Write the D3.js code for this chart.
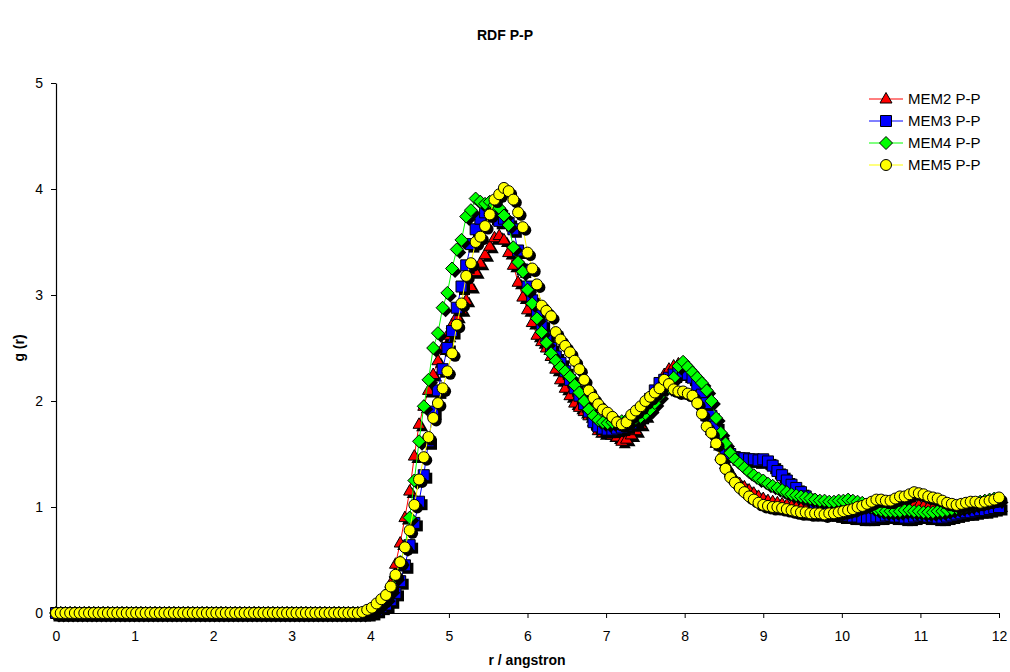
<!DOCTYPE html>
<html>
<head>
<meta charset="utf-8">
<script src="https://cdn.jsdelivr.net/npm/d3@7/dist/d3.min.js"></script>
<style>
body { margin: 0; background: #ffffff; }
text { font-family: Arial, "Liberation Sans", sans-serif; fill: #000; }
</style>
</head>
<body>
<div id="svg-container"></div>
<script>

// ---- data (one value every 0.06 angstrom, r = 0 .. 12) ----
var rStep = 0.06;
var xTicks = [0, 1, 2, 3, 4, 5, 6, 7, 8, 9, 10, 11, 12];
var yTicks = [0, 1, 2, 3, 4, 5];
var seriesNames = ["MEM2 P-P", "MEM3 P-P", "MEM4 P-P", "MEM5 P-P"];

var mem2 = [
    0,0,0,0,0,0,0,0,0,0,
    0,0,0,0,0,0,0,0,0,0,
    0,0,0,0,0,0,0,0,0,0,
    0,0,0,0,0,0,0,0,0,0,
    0,0,0,0,0,0,0,0,0,0,
    0,0,0,0,0,0,0,0,0,0,
    0,0,0,0,0,0,0.01,0.03,0.07,0.12,
    0.16,0.28,0.46,0.66,0.9,1.15,1.48,1.78,1.95,2.1,
    2.25,2.38,2.5,2.62,2.72,2.8,2.86,2.95,3.08,3.22,
    3.3,3.38,3.46,3.54,3.56,3.52,3.4,3.28,3.12,2.98,
    2.86,2.74,2.62,2.56,2.5,2.42,2.3,2.2,2.12,2.05,
    1.98,1.94,1.9,1.86,1.8,1.72,1.7,1.7,1.68,1.66,
    1.62,1.64,1.68,1.72,1.78,1.86,1.95,2.05,2.15,2.25,
    2.3,2.33,2.35,2.34,2.3,2.22,2.12,2.0,1.85,1.72,
    1.6,1.48,1.4,1.32,1.26,1.22,1.19,1.16,1.13,1.1,
    1.08,1.06,1.05,1.04,1.03,1.02,1.01,1.0,0.99,0.98,
    0.97,0.96,0.96,0.95,0.95,0.95,0.95,0.95,0.96,0.96,
    0.96,0.96,0.97,0.97,0.98,0.98,0.99,1.0,1.0,1.01,
    1.01,1.02,1.02,1.02,1.01,1.0,0.99,0.98,0.97,0.97,
    0.97,0.97,0.98,0.98,0.99,0.99,1.0,1.0,1.01,1.01,
    1.02
];

var mem3 = [
    0,0,0,0,0,0,0,0,0,0,
    0,0,0,0,0,0,0,0,0,0,
    0,0,0,0,0,0,0,0,0,0,
    0,0,0,0,0,0,0,0,0,0,
    0,0,0,0,0,0,0,0,0,0,
    0,0,0,0,0,0,0,0,0,0,
    0,0,0,0,0,0,0,0.01,0.03,0.06,
    0.08,0.12,0.19,0.3,0.45,0.64,0.85,1.05,1.3,1.62,
    1.9,2.1,2.3,2.5,2.66,2.88,3.08,3.28,3.48,3.62,
    3.72,3.78,3.8,3.74,3.7,3.72,3.68,3.62,3.42,3.24,
    3.08,2.95,2.82,2.72,2.6,2.5,2.42,2.36,2.28,2.2,
    2.12,2.05,1.97,1.9,1.8,1.76,1.74,1.73,1.73,1.74,
    1.75,1.77,1.79,1.82,1.86,1.93,2.02,2.1,2.17,2.2,
    2.22,2.25,2.27,2.27,2.25,2.22,2.15,2.06,1.98,1.86,
    1.76,1.63,1.55,1.5,1.47,1.46,1.46,1.45,1.45,1.44,
    1.45,1.43,1.39,1.34,1.3,1.25,1.21,1.18,1.14,1.1,
    1.07,1.03,1.0,0.97,0.95,0.94,0.93,0.92,0.92,0.91,
    0.91,0.9,0.9,0.9,0.91,0.91,0.92,0.92,0.91,0.91,
    0.9,0.9,0.91,0.92,0.92,0.91,0.91,0.9,0.9,0.91,
    0.92,0.93,0.94,0.95,0.95,0.96,0.97,0.97,0.98,0.99,
    1.0
];

var mem4 = [
    0,0,0,0,0,0,0,0,0,0,
    0,0,0,0,0,0,0,0,0,0,
    0,0,0,0,0,0,0,0,0,0,
    0,0,0,0,0,0,0,0,0,0,
    0,0,0,0,0,0,0,0,0,0,
    0,0,0,0,0,0,0,0,0,0,
    0,0,0,0,0,0,0.01,0.03,0.06,0.1,
    0.14,0.22,0.34,0.48,0.62,0.9,1.25,1.62,1.95,2.2,
    2.5,2.64,2.88,3.02,3.25,3.43,3.52,3.74,3.8,3.91,
    3.88,3.86,3.88,3.85,3.82,3.75,3.66,3.45,3.31,3.22,
    3.05,2.92,2.78,2.65,2.55,2.45,2.38,2.32,2.28,2.23,
    2.15,2.08,2.0,1.92,1.86,1.82,1.8,1.79,1.8,1.8,
    1.81,1.82,1.83,1.84,1.85,1.88,1.92,1.98,2.05,2.13,
    2.13,2.22,2.33,2.37,2.32,2.27,2.22,2.17,2.1,2.0,
    1.84,1.7,1.6,1.51,1.45,1.41,1.37,1.33,1.3,1.27,
    1.25,1.22,1.2,1.18,1.16,1.14,1.12,1.11,1.1,1.09,
    1.08,1.07,1.06,1.06,1.05,1.05,1.06,1.06,1.07,1.06,
    1.05,1.04,1.02,1.0,0.98,0.97,0.96,0.96,0.96,0.96,
    0.97,0.97,0.96,0.96,0.95,0.95,0.95,0.96,0.96,0.97,
    0.98,0.99,1.0,1.01,1.02,1.03,1.05,1.06,1.07,1.08,
    1.07
];

var mem5 = [
    0,0,0,0,0,0,0,0,0,0,
    0,0,0,0,0,0,0,0,0,0,
    0,0,0,0,0,0,0,0,0,0,
    0,0,0,0,0,0,0,0,0,0,
    0,0,0,0,0,0,0,0,0,0,
    0,0,0,0,0,0,0,0,0,0,
    0,0,0,0,0,0.01,0.03,0.05,0.09,0.13,
    0.17,0.25,0.36,0.48,0.62,0.78,1.02,1.26,1.47,1.66,
    1.84,1.98,2.12,2.28,2.45,2.72,2.92,3.18,3.3,3.5,
    3.55,3.65,3.76,3.9,3.95,4.01,3.98,3.9,3.78,3.64,
    3.4,3.25,3.1,2.9,2.85,2.8,2.65,2.58,2.52,2.46,
    2.38,2.3,2.2,2.1,2.03,1.97,1.92,1.89,1.85,1.8,
    1.78,1.8,1.87,1.91,1.95,2.0,2.04,2.08,2.12,2.2,
    2.16,2.11,2.09,2.09,2.07,2.05,1.98,1.88,1.76,1.7,
    1.6,1.45,1.36,1.28,1.23,1.18,1.14,1.1,1.07,1.04,
    1.02,1.01,1.0,1.0,0.99,0.98,0.97,0.96,0.95,0.95,
    0.94,0.94,0.94,0.93,0.94,0.94,0.95,0.96,0.97,0.98,
    1.0,1.01,1.03,1.05,1.07,1.07,1.06,1.06,1.08,1.1,
    1.1,1.12,1.14,1.13,1.12,1.1,1.09,1.08,1.06,1.04,
    1.03,1.02,1.03,1.04,1.05,1.05,1.04,1.05,1.06,1.07,
    1.09
];

var seriesValues = [mem2, mem3, mem4, mem5];
var seriesColors = ["#ff0000", "#0000ff", "#00ff00", "#ffff00"];
var seriesMarkers = ["triangle", "square", "diamond", "circle"];

// ---- layout ----
var svgWidth = 1010,
    svgHeight = 672;
var plotLeft = 56, plotRight = 999, plotTop = 83, plotBottom = 613;

var svg = d3.select("#svg-container").append("svg")
    .attr("width", svgWidth)
    .attr("height", svgHeight);

var x = d3.scaleLinear().domain([0, 12]).range([plotLeft, plotRight]);
var y = d3.scaleLinear().domain([0, 5]).range([plotBottom, plotTop]);

// marker paths (Excel style shapes, about 10-11px)
function markerPath(type) {
    if (type === "triangle") return "M0,-6.5L6,4L-6,4Z";
    if (type === "square") return "M-5.5,-5.5H5.5V5.5H-5.5Z";
    if (type === "diamond") return "M0,-6.5L6.5,0L0,6.5L-6.5,0Z";
    return d3.symbol().type(d3.symbolCircle).size(95)(); // circle
}

// title
svg.append("text")
    .attr("x", 505)
    .attr("y", 40)
    .attr("text-anchor", "middle")
    .style("font-size", "14px")
    .style("font-weight", "bold")
    .text("RDF P-P");

// axes
var xAxis = svg.append("g")
    .attr("transform", "translate(0," + plotBottom + ")")
    .call(d3.axisBottom(x).tickValues(xTicks).tickFormat(d3.format("d"))
        .tickSize(5).tickPadding(13).tickSizeOuter(0));
var yAxis = svg.append("g")
    .attr("transform", "translate(" + plotLeft + ",0)")
    .call(d3.axisLeft(y).tickValues(yTicks).tickFormat(d3.format("d"))
        .tickSize(5).tickPadding(8).tickSizeOuter(0));

[xAxis, yAxis].forEach(function(ax) {
    ax.select(".domain").attr("stroke", "#000").attr("stroke-width", 1.2);
    ax.selectAll(".tick line").attr("stroke", "#000");
    ax.selectAll(".tick text")
        .style("font-size", "14px")
        .style("font-family", "Arial, 'Liberation Sans', sans-serif");
});

// axis titles
svg.append("text")
    .attr("x", 527)
    .attr("y", 665)
    .attr("text-anchor", "middle")
    .style("font-size", "14px")
    .style("font-weight", "bold")
    .text("r / angstron");

svg.append("text")
    .attr("transform", "translate(24," + 348 + ") rotate(-90)")
    .attr("text-anchor", "middle")
    .style("font-size", "14px")
    .style("font-weight", "bold")
    .text("g (r)");

// series, drawn in legend order so MEM5 ends on top
var line = d3.line()
    .x(function(d, i) { return x(i * rStep); })
    .y(function(d) { return y(d); });

seriesValues.forEach(function(values, s) {
    var g = svg.append("g").attr("class", "series");

    g.append("path")
        .datum(values)
        .attr("fill", "none")
        .attr("stroke", seriesColors[s])
        .attr("stroke-width", 1)
        .attr("d", line);

    var path = markerPath(seriesMarkers[s]);

    // the black drop shadow under every marker
    g.selectAll(".shadow")
        .data(values)
        .enter().append("path")
        .attr("class", "shadow")
        .attr("d", path)
        .attr("fill", "#000")
        .attr("transform", function(d, i) {
            return "translate(" + (x(i * rStep) + 3) + "," + (y(d) + 3) + ")";
        });

    g.selectAll(".marker")
        .data(values)
        .enter().append("path")
        .attr("class", "marker")
        .attr("d", path)
        .attr("fill", seriesColors[s])
        .attr("stroke", "#000")
        .attr("stroke-width", 1)
        .attr("transform", function(d, i) {
            return "translate(" + x(i * rStep) + "," + y(d) + ")";
        });
});

// legend
var legend = svg.append("g").attr("class", "legend");
seriesNames.forEach(function(name, s) {
    var ly = 99 + s * 22;
    legend.append("line")
        .attr("x1", 869).attr("x2", 903)
        .attr("y1", ly).attr("y2", ly)
        .attr("stroke", seriesColors[s])
        .attr("stroke-width", 1);
    legend.append("path")
        .attr("d", markerPath(seriesMarkers[s]))
        .attr("transform", "translate(886," + ly + ")")
        .attr("fill", seriesColors[s])
        .attr("stroke", "#000")
        .attr("stroke-width", 1);
    legend.append("text")
        .attr("x", 908)
        .attr("y", ly)
        .attr("dy", "0.35em")
        .style("font-size", "15px")
        .text(name);
});

</script>
</body>
</html>
